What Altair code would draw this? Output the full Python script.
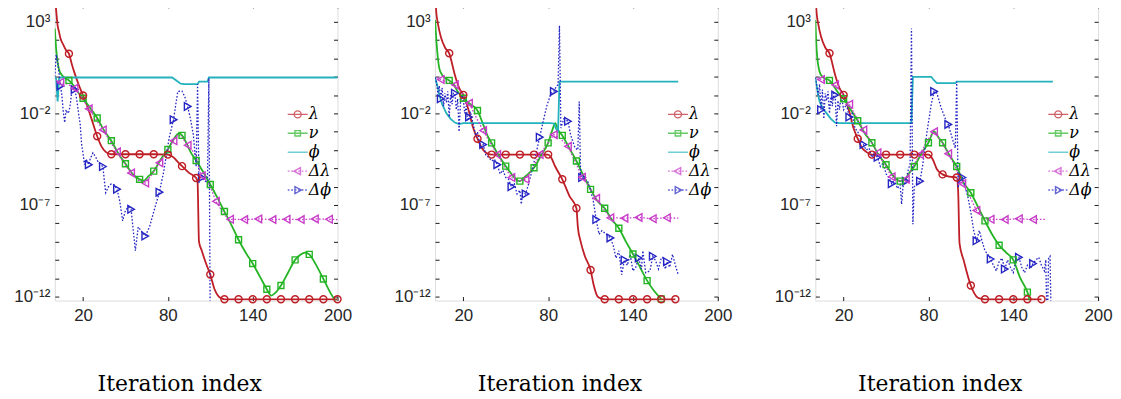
import altair as alt
import pandas as pd

SERIES = ["λ", "ν", "ϕ", "Δλ", "Δϕ"]
KEYS = ["lam", "nu", "phi", "dlam", "dphi"]
COLORS = ["#BE1E26", "#24B424", "#23B2BD", "#C83CC8", "#2424C4"]

# ---------------- panel 1 ----------------
p1_lam_it = [0, 1, 2, 3, 4, 6, 8, 10, 12, 14, 17, 20, 23, 26, 30, 33, 36, 40, 50, 60, 70, 80, 84, 87, 90, 95, 100, 101, 102, 104, 107, 110, 113, 116, 118, 120, 130, 140, 150, 160, 170, 180, 190, 200]
p1_lam_lg = [4.6, 3.6, 2.8, 2.45, 2.1, 1.75, 1.45, 1.26, 0.7, 0.2, -0.45, -1.02, -1.6, -2.3, -3.25, -3.8, -4.1, -4.23, -4.23, -4.23, -4.23, -4.25, -4.4, -4.65, -4.88, -5.25, -5.53, -5.75, -9.0, -9.5, -10.2, -10.8, -11.6, -12.0, -12.1, -12.15, -12.15, -12.15, -12.15, -12.15, -12.15, -12.15, -12.15, -12.15]
p1_nu_it = [0, 1, 2, 3, 5, 7, 10, 13, 16, 20, 25, 30, 35, 40, 45, 50, 55, 60, 63, 66, 70, 75, 80, 83, 86, 88, 90, 93, 96, 100, 105, 110, 115, 120, 125, 130, 135, 140, 145, 150, 153, 156, 160, 165, 170, 174, 177, 180, 185, 190, 195, 200]
p1_nu_lg = [2.64, 1.5, 0.8, 0.4, 0.1, -0.05, -0.2, -0.45, -0.8, -1.17, -1.7, -2.25, -2.95, -3.49, -4.2, -4.75, -5.3, -5.6, -5.68, -5.45, -5.15, -4.5, -3.97, -3.55, -3.2, -3.08, -3.2, -3.6, -4.1, -4.57, -5.2, -5.88, -6.6, -7.36, -8.1, -8.9, -9.6, -10.2, -10.9, -11.6, -11.95, -11.8, -11.4, -10.7, -10.0, -9.7, -9.6, -9.7, -10.3, -11.04, -11.8, -12.4]
p1_phi_it = [0, 1, 2, 3, 4, 83, 86, 89, 92, 101, 102, 108, 109, 200]
p1_phi_lg = [-0.04, -0.1, -1.35, -0.1, -0.04, -0.04, -0.2, -0.38, -0.4, -0.4, -0.27, -0.27, -0.04, -0.04]
p1_dlam_it = [1, 4, 9, 14, 19, 24, 29, 34, 39, 44, 49, 54, 59, 64, 69, 74, 79, 84, 87, 90, 94, 97, 100, 102, 104, 107, 110, 114, 118, 122, 124, 134, 144, 154, 164, 174, 184, 194, 200]
p1_dlam_lg = [-0.2, -0.3, -0.4, -0.62, -1.1, -1.75, -2.3, -2.9, -3.5, -4.1, -4.7, -5.25, -5.65, -5.8, -5.3, -4.7, -4.1, -3.5, -3.15, -3.3, -3.74, -4.0, -4.3, -5.0, -5.4, -5.7, -6.0, -6.8, -7.3, -7.7, -7.78, -7.8, -7.76, -7.8, -7.78, -7.8, -7.76, -7.78, -7.8]
p1_dphi_it = [0, 1, 2, 3, 4, 5, 6, 7, 8, 9, 10, 11, 12, 13, 14, 15, 16, 17, 18, 19, 20, 21, 22, 23, 24, 25, 27, 29, 31, 34, 36, 38, 40, 42, 44, 46, 48, 50, 52, 54, 55, 57, 59, 61, 64, 67, 71, 74, 77, 79, 81, 84, 87, 90, 92, 94, 96, 98, 100, 101, 102, 103, 104, 106, 108, 109, 110]
p1_dphi_lg = [0.0, 1.2, 0.8, 0.2, -0.5, -1.0, -1.9, -2.5, -1.8, -2.0, -1.9, -1.5, -0.8, -0.65, -0.7, -1.0, -1.5, -2.1, -2.6, -3.7, -4.2, -4.8, -4.5, -4.6, -4.8, -4.5, -4.15, -4.4, -4.7, -4.9, -6.33, -6.0, -5.84, -5.9, -6.14, -6.8, -7.87, -7.3, -7.1, -7.24, -8.0, -9.5, -8.2, -8.4, -8.7, -8.2, -7.1, -6.3, -5.2, -4.25, -3.3, -2.34, -0.8, -0.78, -1.1, -1.62, -2.3, -3.16, -4.9, -0.4, -5.8, -5.5, -5.5, -5.7, -5.75, -0.08, -14.0]

# ---------------- panel 2 ----------------
p2_lam_it = [0, 1, 2, 4, 7, 10, 14, 17, 20, 24, 27, 30, 33, 36, 40, 50, 60, 70, 80, 82, 85, 90, 95, 100, 101, 103, 106, 110, 112, 115, 118, 120, 130, 140, 150, 160, 170]
p2_lam_lg = [4.5, 3.4, 2.9, 2.2, 1.6, 1.28, 0.1, -0.6, -0.99, -1.9, -2.8, -3.38, -3.88, -4.15, -4.25, -4.25, -4.25, -4.25, -4.25, -4.4, -4.9, -5.6, -6.5, -7.18, -8.2, -9.0, -9.8, -10.55, -11.3, -12.0, -12.12, -12.15, -12.15, -12.15, -12.15, -12.15, -12.15]
p2_nu_it = [0, 1, 3, 5, 7, 10, 13, 16, 20, 25, 30, 34, 37, 40, 45, 50, 55, 58, 60, 63, 66, 70, 75, 80, 83, 85, 87, 90, 95, 100, 105, 110, 115, 120, 125, 130, 135, 140, 145, 150, 155, 160]
p2_nu_lg = [3.1, 1.9, 0.46, 0.1, -0.05, -0.2, -0.4, -0.8, -1.17, -1.5, -1.84, -2.6, -3.2, -3.61, -4.3, -4.88, -5.4, -5.65, -5.7, -5.5, -5.3, -4.97, -4.3, -3.61, -2.9, -2.53, -2.9, -3.2, -3.9, -4.6, -5.4, -6.15, -6.8, -7.18, -7.8, -8.27, -9.0, -9.68, -10.4, -11.13, -11.7, -12.13]
p2_phi_it = [0, 2, 3, 5, 8, 11, 14, 17, 20, 81, 84, 86, 87, 88, 172]
p2_phi_lg = [-0.04, -0.6, -1.0, -1.5, -2.0, -2.3, -2.5, -2.58, -2.53, -2.53, -2.55, -2.9, -3.05, -0.26, -0.26]
p2_dlam_it = [1, 4, 9, 14, 19, 24, 29, 34, 39, 44, 49, 54, 59, 64, 69, 74, 79, 84, 89, 94, 99, 104, 109, 114, 119, 124, 134, 144, 154, 164, 172]
p2_dlam_lg = [-0.04, -0.15, -0.3, -0.44, -0.9, -1.44, -2.2, -2.94, -3.6, -4.25, -4.9, -5.5, -5.7, -5.6, -5.0, -4.25, -3.7, -3.16, -3.4, -3.8, -4.6, -5.48, -6.0, -6.64, -7.2, -7.7, -7.72, -7.68, -7.75, -7.7, -7.72]
p2_dphi_it = [0, 1, 2, 3, 4, 5, 6, 7, 8, 9, 10, 11, 12, 13, 14, 15, 16, 17, 18, 19, 20, 21, 22, 23, 24, 25, 27, 29, 30, 32, 34, 36, 38, 40, 42, 44, 46, 48, 50, 52, 54, 56, 58, 60, 61, 62, 64, 66, 69, 72, 74, 76, 79, 82, 84, 86, 87, 88, 89, 91, 94, 96, 99, 101, 102, 103, 104, 106, 108, 110, 112, 114, 116, 118, 121, 124, 126, 128, 130, 132, 134, 136, 138, 140, 142, 144, 146, 147, 149, 152, 154, 156, 158, 160, 161, 163, 164, 166, 168, 170, 172]
p2_dphi_lg = [-0.04, -0.3, -0.9, -0.5, -1.2, -0.6, -1.6, -0.9, -1.4, -0.8, -2.2, -1.0, -1.5, -0.9, -0.9, -1.8, -1.2, -3.0, -1.4, -1.0, -1.3, -2.0, -1.6, -2.4, -2.2, -1.9, -2.6, -3.3, -3.0, -3.9, -3.7, -4.3, -4.4, -4.6, -4.5, -4.8, -5.3, -5.1, -5.5, -5.6, -6.0, -5.8, -6.4, -6.2, -6.96, -6.3, -6.4, -5.9, -5.0, -4.0, -3.3, -2.6, -1.6, -0.9, -0.8, -0.5, -0.44, 2.8, -2.8, -2.3, -2.43, -3.2, -3.88, -4.0, -1.35, -5.5, -5.5, -5.6, -5.7, -6.2, -6.8, -7.8, -8.6, -8.4, -8.6, -8.8, -9.2, -9.9, -9.5, -10.8, -10.0, -10.3, -9.7, -10.6, -10.4, -9.9, -10.5, -9.5, -10.7, -10.6, -9.8, -10.04, -10.5, -9.9, -9.86, -10.5, -10.1, -10.4, -9.7, -10.3, -10.8]

# ---------------- panel 3 ----------------
p3_lam_it = [0, 1, 2, 4, 7, 10, 14, 17, 20, 24, 27, 30, 33, 36, 40, 50, 60, 70, 80, 83, 86, 90, 95, 100, 101, 102, 105, 110, 114, 117, 120, 130, 140, 150, 160]
p3_lam_lg = [4.5, 3.4, 2.9, 2.2, 1.6, 1.28, 0.1, -0.6, -0.99, -1.9, -2.8, -3.38, -3.88, -4.1, -4.25, -4.25, -4.25, -4.25, -4.25, -4.5, -5.05, -5.33, -5.45, -5.5, -6.2, -9.1, -10.04, -11.4, -12.0, -12.12, -12.15, -12.15, -12.15, -12.15, -12.15]
p3_nu_it = [0, 1, 3, 5, 7, 10, 13, 16, 20, 25, 30, 35, 40, 45, 50, 55, 60, 63, 66, 70, 75, 80, 84, 87, 90, 95, 100, 105, 110, 115, 120, 125, 130, 135, 140, 145, 150, 152]
p3_nu_lg = [3.1, 1.37, 0.28, 0.0, -0.1, -0.2, -0.5, -0.85, -1.2, -1.8, -2.4, -3.1, -3.6, -4.3, -4.8, -5.4, -5.7, -5.65, -5.3, -4.9, -4.2, -3.6, -2.98, -3.3, -3.6, -4.3, -4.9, -5.8, -6.33, -7.1, -7.87, -8.6, -9.2, -9.6, -10.0, -11.0, -11.76, -12.3]
p3_phi_it = [0, 2, 3, 5, 8, 11, 14, 17, 68, 69, 82, 84, 86, 99, 100, 168]
p3_phi_lg = [-0.04, -1.0, -1.35, -1.7, -2.0, -2.3, -2.5, -2.53, -2.53, 0.0, 0.0, -0.2, -0.35, -0.35, -0.26, -0.26]
p3_dlam_it = [1, 4, 9, 14, 19, 24, 29, 34, 39, 44, 49, 54, 59, 64, 69, 74, 79, 84, 89, 94, 99, 104, 109, 114, 119, 124, 134, 144, 154, 163]
p3_dlam_lg = [-0.04, -0.15, -0.3, -0.44, -0.9, -1.5, -2.2, -2.9, -3.5, -4.15, -4.8, -5.46, -5.7, -5.6, -4.9, -4.25, -3.5, -3.0, -3.5, -4.2, -4.9, -5.84, -6.5, -7.3, -7.7, -7.78, -7.8, -7.75, -7.8, -7.78]
p3_dphi_it = [0, 1, 2, 3, 4, 5, 6, 7, 8, 9, 10, 11, 12, 13, 14, 15, 16, 17, 18, 19, 20, 22, 24, 26, 28, 30, 32, 34, 36, 38, 40, 42, 44, 46, 48, 50, 52, 54, 56, 58, 60, 61, 62, 64, 66, 67, 68, 69, 70, 72, 74, 76, 79, 82, 84, 86, 89, 92, 94, 97, 99, 100, 101, 102, 104, 106, 108, 110, 112, 114, 116, 118, 120, 122, 124, 126, 128, 130, 132, 134, 136, 138, 140, 142, 144, 146, 148, 150, 152, 154, 156, 158, 160, 162, 163, 164, 165, 166, 167]
p3_dphi_lg = [-0.04, -0.5, -1.0, -0.4, -1.8, -0.7, -2.3, -0.9, -1.3, -0.8, -2.0, -1.1, -1.6, -0.9, -1.0, -2.7, -1.3, -1.8, -1.2, -1.3, -1.8, -1.5, -2.2, -2.0, -2.8, -3.0, -3.4, -3.7, -4.0, -3.9, -4.4, -4.2, -4.4, -4.9, -4.7, -5.3, -5.5, -5.84, -5.6, -6.1, -5.9, -6.96, -6.0, -5.7, -5.0, -4.8, 2.64, -8.05, -6.0, -5.8, -5.7, -4.8, -3.0, -1.5, -0.8, -0.9, -1.7, -2.3, -2.6, -3.4, -3.9, -0.26, -6.06, -5.6, -5.5, -6.0, -6.6, -7.4, -8.4, -8.96, -8.4, -9.0, -9.5, -9.7, -9.95, -10.3, -10.6, -10.1, -9.9, -10.5, -10.0, -10.4, -10.7, -10.0, -9.86, -10.4, -10.7, -10.3, -10.5, -10.2, -10.0, -9.86, -10.3, -10.6, -10.0, -14.0, -9.9, -9.8, -14.0]

X_TICKS = [20, 80, 140, 200]
Y_TICKS = [1e-12, 1e-11, 1e-10, 1e-9, 1e-8, 1e-7, 1e-6, 1e-5, 1e-4, 1e-3, 1e-2, 1e-1, 1e0, 1e1, 1e2, 1e3]

# ---------------- build table ----------------
SRC = {
    1: {"lam": (p1_lam_it, p1_lam_lg), "nu": (p1_nu_it, p1_nu_lg), "phi": (p1_phi_it, p1_phi_lg),
        "dlam": (p1_dlam_it, p1_dlam_lg), "dphi": (p1_dphi_it, p1_dphi_lg)},
    2: {"lam": (p2_lam_it, p2_lam_lg), "nu": (p2_nu_it, p2_nu_lg), "phi": (p2_phi_it, p2_phi_lg),
        "dlam": (p2_dlam_it, p2_dlam_lg), "dphi": (p2_dphi_it, p2_dphi_lg)},
    3: {"lam": (p3_lam_it, p3_lam_lg), "nu": (p3_nu_it, p3_nu_lg), "phi": (p3_phi_it, p3_phi_lg),
        "dlam": (p3_dlam_it, p3_dlam_lg), "dphi": (p3_dphi_it, p3_dphi_lg)},
}
NAME = dict(zip(KEYS, SERIES))
COL = dict(zip(KEYS, COLORS))
PHASE = {"lam": 0, "nu": 0, "phi": None, "dlam": 4, "dphi": 4}
LG_MIN, LG_MAX = -12.22, 3.98

rows = []
for pid, d in SRC.items():
    for k, (its, lgs) in d.items():
        assert len(its) == len(lgs), (pid, k)
        for i, (t, g) in enumerate(zip(its, lgs)):
            ph = PHASE[k]
            mk = int(ph is not None and t >= 1 and (t - ph) % 10 == 0 and LG_MIN <= g <= LG_MAX)
            rows.append(dict(panel=pid, key=k, series=NAME[k], it=t, val=10.0 ** g, order=i, mk=mk))
df = pd.DataFrame(rows)

# ---------------- styles ----------------
INK = "#1a1a1a"
xsc = alt.Scale(domain=[0, 200], nice=False, zero=False)
ysc = alt.Scale(type="log", domain=[10 ** LG_MIN, 10 ** LG_MAX], nice=False)

L = "round(log(datum.value)/LN10)"
Y_LABELS = (f"{L} == 3 ? '10³' : {L} == -2 ? '10⁻²' : {L} == -7 ? '10⁻⁷' : "
            f"{L} == -12 ? '10⁻¹²' : ''")

ax_bottom = alt.Axis(orient="bottom", values=X_TICKS, offset=-4, tickSize=4, domain=False, grid=False,
                     labelPadding=7, labelFontSize=17, labelFont="Liberation Sans", labelColor="#262626",
                     tickColor=INK, labelFlush=False, labelOverlap=False,
                     title="Iteration index", titleFont="DejaVu Serif", titleFontSize=22,
                     titleFontWeight="normal", titleColor="black", titleX=125, titleY=94,
                     titleBaseline="alphabetic", titleAlign="center")
ax_top = alt.Axis(orient="top", values=X_TICKS, offset=-4, tickSize=4, domain=False, grid=False,
                  labels=False, tickColor=INK, title=None)
ax_left = alt.Axis(orient="left", values=Y_TICKS, offset=-4, tickSize=4, domain=False, grid=False,
                   labelExpr=Y_LABELS, labelPadding=5, labelFontSize=17, labelFont="Liberation Sans",
                   labelColor="#262626", tickColor=INK, labelOverlap=False, labelFlush=False, title=None)
ax_right = alt.Axis(orient="right", values=Y_TICKS, offset=-4, tickSize=4, domain=False, grid=False,
                    labels=False, tickColor=INK, title=None)


def dotted(n0=-2.0, n1=2.0, seg=0.35, gap=0.35):
    s, x = "", n0
    while x < n1 - 1e-9:
        e = min(x + seg, n1)
        s += f"M{x:.2f},0H{e:.2f}"
        x = e + gap
    return s


LEG_PATHS = [
    "M-2,0H2M-0.7,0A0.7,0.7,0,1,1,0.7,0A0.7,0.7,0,1,1,-0.7,0Z",
    "M-2,0H2M-0.55,-0.55H0.55V0.55H-0.55Z",
    "M-2,0H2",
    dotted() + "M-0.75,0L0.55,-0.7L0.55,0.7Z",
    dotted() + "M0.75,0L-0.55,-0.7L-0.55,0.7Z",
]

LINE_STYLE = {
    "lam": dict(strokeWidth=1.8, interpolate="monotone"),
    "nu": dict(strokeWidth=1.8, interpolate="monotone"),
    "phi": dict(strokeWidth=1.8, interpolate="linear"),
    "dlam": dict(strokeWidth=1.3, strokeDash=[1.6, 1.8], interpolate="linear"),
    "dphi": dict(strokeWidth=1.3, strokeDash=[1.6, 1.8], interpolate="linear"),
}
MARK_STYLE = {
    "lam": dict(shape="circle", size=50),
    "nu": dict(shape="square", size=36),
    "dlam": dict(shape="triangle-left", size=58),
    "dphi": dict(shape="triangle-right", size=58),
}


def legend():
    return alt.Legend(title=None, orient="none", legendX=236, legendY=103, padding=0,
                      symbolSize=100, symbolStrokeWidth=1.4, symbolFillColor="transparent",
                      labelFont="DejaVu Serif", labelFontStyle="italic", labelFontSize=16,
                      labelColor="black", labelOffset=3, rowPadding=3, labelLimit=0)


def make_panel(pid):
    base = alt.Chart(df).transform_filter(alt.datum.panel == pid)
    layers = []
    leg = base.transform_filter("false").mark_point(filled=False, strokeWidth=1.4).encode(
        x=alt.X("it:Q", scale=xsc, axis=None),
        y=alt.Y("val:Q", scale=ysc, axis=None),
        color=alt.Color("series:N", scale=alt.Scale(domain=SERIES, range=COLORS), legend=legend()),
        shape=alt.Shape("series:N", scale=alt.Scale(domain=SERIES, range=LEG_PATHS), legend=legend()),
    )
    layers.append(leg)
    for j, k in enumerate(KEYS):
        if j == 0:
            ax, ay = ax_bottom, ax_left
        elif j == 1:
            ax, ay = ax_top, ax_right
        else:
            ax, ay = None, None
        ln = base.transform_filter(alt.datum.key == k).mark_line(
            clip=True, color=COL[k], **LINE_STYLE[k]
        ).encode(
            x=alt.X("it:Q", scale=xsc, axis=ax),
            y=alt.Y("val:Q", scale=ysc, axis=ay),
            order="order:Q",
        )
        layers.append(ln)
    for k in ["dphi", "dlam", "nu", "lam"]:
        mk = base.transform_filter((alt.datum.key == k) & (alt.datum.mk == 1)).mark_point(
            filled=False, strokeWidth=1.4, color=COL[k], opacity=1, **MARK_STYLE[k]
        ).encode(
            x=alt.X("it:Q", scale=xsc, axis=None),
            y=alt.Y("val:Q", scale=ysc, axis=None),
        )
        layers.append(mk)
    return alt.layer(*layers).resolve_axis(x="independent", y="independent").properties(
        width=284, height=298
    )


chart = alt.hconcat(make_panel(1), make_panel(2), make_panel(3), spacing=98, bounds="flush").resolve_scale(
    color="independent", shape="independent"
).properties(
    padding={"left": 5, "top": -6, "right": 0, "bottom": 0}
).configure_view(stroke=INK, strokeWidth=1.2).configure(background="white")

chart.save("out.html", embed_options={"renderer": "svg", "actions": False})
